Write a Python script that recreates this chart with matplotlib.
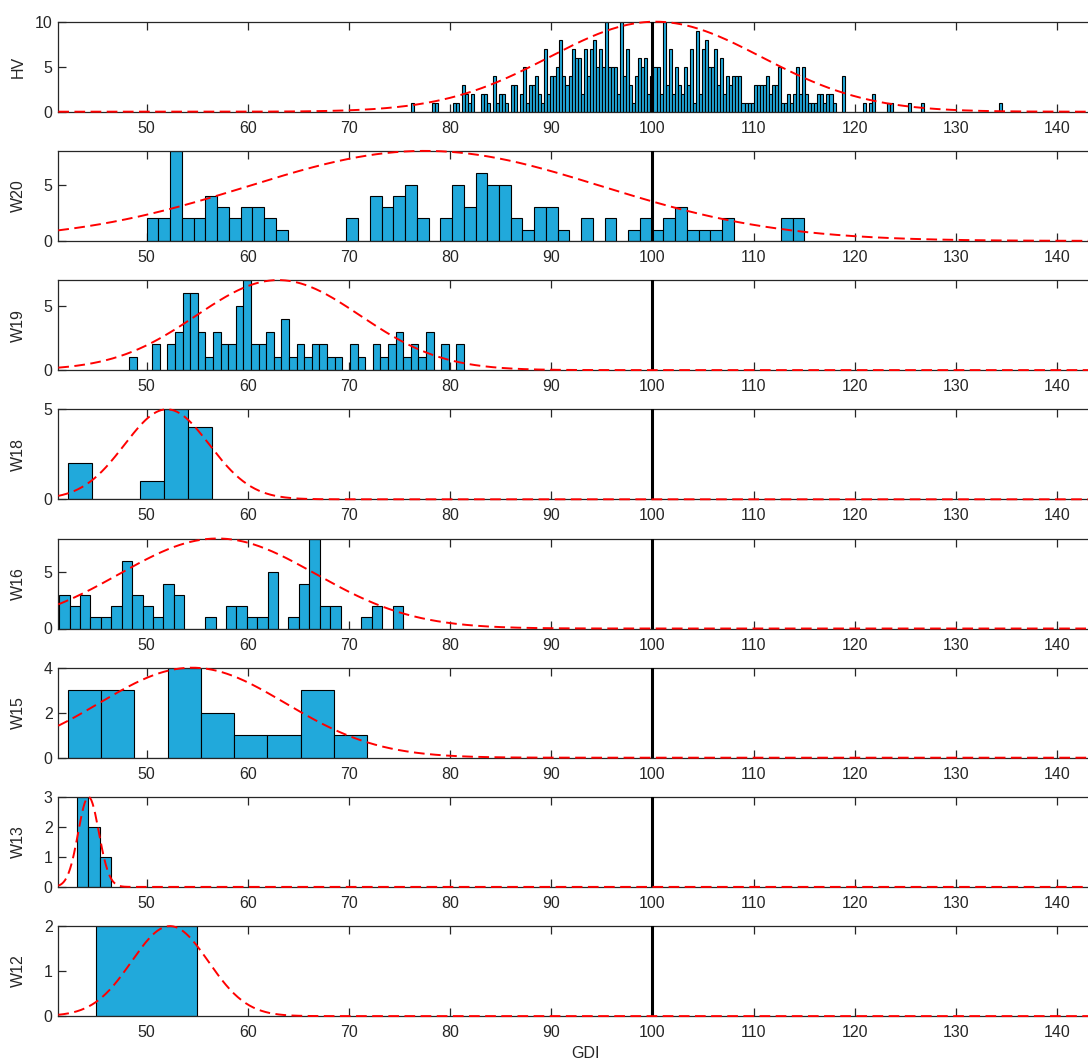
import numpy as np
import matplotlib
matplotlib.use("Agg")
import matplotlib.pyplot as plt

plt.rcParams['font.family'] = ['Liberation Sans', 'DejaVu Sans']

# ---------------- data ----------------
panel_names = ["HV", "W20", "W19", "W18", "W16", "W15", "W13", "W12"]

bin_start = [76.1, 50.0, 48.28, 42.19, 41.35, 42.2, 43.1, 45.0]
bin_width = [0.3, 1.161, 0.752, 2.38, 1.0303, 3.29, 1.13, 10.0]

hv_counts = [
    1, 0, 0, 0, 0, 0, 0, 1, 1, 0, 0, 0, 0, 0, 1, 1, 0, 3, 2, 1,
    2, 0, 0, 2, 2, 1, 0, 4, 1, 2, 2, 1, 0, 3, 3, 0, 2, 5, 1, 3,
    3, 4, 2, 1, 7, 2, 4, 4, 5, 8, 4, 3, 4, 7, 6, 6, 2, 7, 4, 7,
    8, 5, 7, 5, 10, 5, 5, 5, 2, 10, 4, 7, 3, 1, 4, 6, 5, 6, 2, 4,
    5, 5, 2, 10, 3, 7, 2, 5, 3, 2, 5, 3, 7, 1, 9, 2, 7, 8, 5, 5,
    7, 3, 6, 2, 4, 3, 4, 4, 4, 1, 1, 1, 1, 3, 3, 3, 3, 4, 2, 3,
    3, 5, 1, 1, 2, 1, 2, 5, 2, 5, 2, 1, 1, 1, 2, 2, 1, 2, 2, 1,
    0, 0, 4, 0, 0, 0, 0, 0, 0, 1, 0, 1, 2, 0, 0, 0, 0, 1, 1, 0,
    0, 0, 0, 0, 1, 0, 0, 0, 1, 0, 0, 0, 0, 0, 0, 0, 0, 0, 0, 0,
    0, 0, 0, 0, 0, 0, 0, 0, 0, 0, 0, 0, 0, 0, 1,
]
w20_counts = [2, 2, 8, 2, 2, 4, 3, 2, 3, 3, 2, 1, 0, 0, 0, 0, 0, 2, 0, 4,
              3, 4, 5, 2, 0, 2, 5, 3, 6, 5, 5, 2, 1, 3, 3, 1, 0, 2, 0, 2,
              0, 1, 2, 1, 2, 3, 1, 1, 1, 2, 0, 0, 0, 0, 2, 2]
w19_counts = [1, 0, 0, 2, 0, 2, 3, 6, 6, 3, 1, 3, 2, 2, 5, 7, 2, 2, 3, 1,
              4, 1, 2, 1, 2, 2, 1, 1, 0, 2, 1, 0, 2, 1, 2, 3, 1, 2, 1, 3,
              0, 2, 0, 2]
w18_counts = [2, 0, 0, 1, 5, 4]
w16_counts = [3, 2, 3, 1, 1, 2, 6, 3, 2, 1, 4, 3, 0, 0, 1, 0, 2, 2, 1, 1,
              5, 0, 1, 4, 8, 2, 2, 0, 0, 1, 2, 0, 2]
w15_counts = [3, 3, 0, 4, 2, 1, 1, 3, 1]
w13_counts = [3, 2, 1]
w12_counts = [2]

all_counts = [hv_counts, w20_counts, w19_counts, w18_counts,
              w16_counts, w15_counts, w13_counts, w12_counts]

y_max = [10, 8, 7, 5, 8, 4, 3, 2]
y_ticks = [[0, 5, 10], [0, 5], [0, 5], [0, 5], [0, 5], [0, 2, 4], [0, 1, 2, 3], [0, 1, 2]]

# fitted normal curves (mean, sd), drawn scaled to each panel's top
fit_mean = [100.3, 77.5, 63.0, 52.0, 57.0, 54.5, 44.25, 52.3]
fit_sd = [10.5, 17.5, 8.1, 4.2, 9.7, 9.2, 1.02, 3.8]

x_ticks = [50, 60, 70, 80, 90, 100, 110, 120, 130, 140]
ref_line = 100
x_lim = (41.26, 145.5)
x_label = "GDI"

# ---------------- drawing ----------------
W, H = 1088, 1061
fig = plt.figure(figsize=(W / 100, H / 100), dpi=100)
fig.patch.set_facecolor('white')

bar_color = '#21A9DB'
txt_color = '#262626'
left = 58.3 / W
width = (x_lim[1] - x_lim[0]) * 10.115 / W
ax_h = 90

for i, name in enumerate(panel_names):
    top_px = 21.7 + 129.2 * i
    ax = fig.add_axes([left, 1 - (top_px + ax_h) / H, width, ax_h / H])
    counts = np.array(all_counts[i], dtype=float)
    edges = bin_start[i] + bin_width[i] * np.arange(len(counts) + 1)
    ax.hist(edges[:-1], bins=edges, weights=counts, color=bar_color,
            edgecolor='black', linewidth=0.8, zorder=2)
    ax.axvline(ref_line, color='black', lw=2.2, zorder=3)
    xs = np.linspace(x_lim[0], x_lim[1], 800)
    ys = y_max[i] * np.exp(-(xs - fit_mean[i]) ** 2 / (2 * fit_sd[i] ** 2))
    ax.plot(xs, ys, color='red', lw=1.4, ls=(0, (5.5, 2.8)), zorder=4, clip_on=False)

    ax.set_xlim(*x_lim)
    ax.set_ylim(0, y_max[i])
    ax.set_xticks(x_ticks)
    ax.set_yticks(y_ticks[i])
    ax.tick_params(axis='x', pad=6.5)
    ax.tick_params(axis='y', pad=4)
    ax.tick_params(direction='in', length=5.5, width=0.9, top=True, right=True,
                   labelsize=11.5, colors=txt_color)
    for s in ax.spines.values():
        s.set_color(txt_color)
        s.set_linewidth(0.9)
    ax.set_ylabel(name, fontsize=11.5, color=txt_color)
    ax.yaxis.set_label_coords(-0.031, 0.5)
    if i == len(panel_names) - 1:
        ax.set_xlabel(x_label, fontsize=11.5, color=txt_color, labelpad=4)

fig.savefig("out.png", dpi=100)
